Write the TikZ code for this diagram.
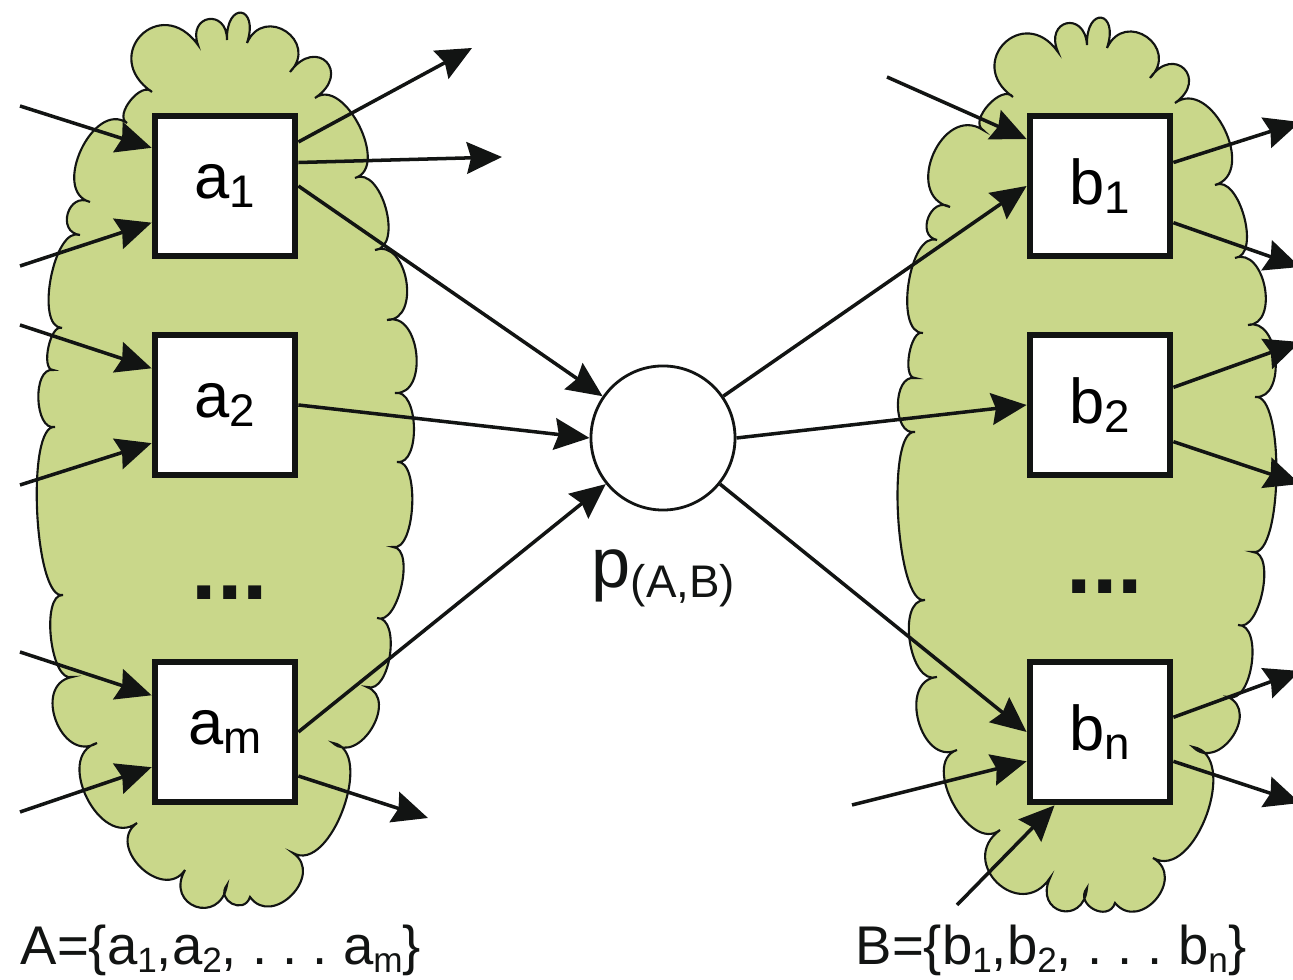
\documentclass[tikz,border=0pt]{standalone}
\usepackage{fontspec}
\setmainfont{Liberation Sans}
\usetikzlibrary{arrows.meta,calc}
\definecolor{Ink}{HTML}{121413}
\definecolor{Leaf}{HTML}{C9D78A}
\newcommand{\low}[2][13pt]{\raisebox{-0.13em}{\fontsize{#1}{#1}\selectfont #2}}

\begin{document}
\begin{tikzpicture}[x=0.01cm,y=-0.01cm,
      cloud/.style={draw=Ink,line width=0.6pt,fill=Leaf},
      elem/.style={draw=Ink,fill=white,line width=1.9pt,minimum size=1.40cm,
                   inner sep=0pt,font=\fontsize{18pt}{20pt}\selectfont},
      hub/.style={circle,draw=Ink,fill=white,line width=0.8pt,
                  minimum size=1.44cm},
      link/.style={-{Stealth[length=10pt,width=9pt,inset=1.2pt]},Ink,
                   line width=1pt},
      gap/.style={font=\fontsize{26pt}{26pt}\selectfont\bfseries,text=Ink,
                  inner sep=0pt,anchor=base},
      setlabel/.style={font=\fontsize{15.5pt}{18pt}\selectfont,text=Ink,
                       inner sep=0pt,anchor=base west}]
    \useasboundingbox (0,0) rectangle (1293,980);
    % the two clouds
    \draw[cloud] (152,92)
      \foreach \x/\y/\s in {198/45/2.5, 227/40/2.8, 247/43/5, 290/72/2.1,
        315/98/3.2, 355/178/1.05, 375/250/1, 387/320/1.25, 395/393/1.2,
        397/462/0.9, 393/547/0.7, 377/618/0.8, 367/687/0.9, 333/743/1.35,
        293/853/0.95, 250/897/1.6, 227/885/1.9, 185/870/2.4, 137/823/1.5,
        97/743/1.3, 72/677/1.5, 63/595/0.7, 55/427/0.45, 53/370/0.95,
        62/328/0.75, 80/235/0.75, 90/202/1.8, 127/123/1.2, 152/92/1}
      { to[bend left=100,looseness=\s] (\x,\y) } -- cycle;
    \draw[cloud] (1013,97)
      \foreach \x/\y/\s in {1058/52/2.4, 1087/45/3, 1107/48/5,
        1150/78/2.1, 1175/103/3, 1215/185/1.25, 1235/258/0.9, 1248/325/1.2,
        1255/397/1.15, 1253/552/0.5, 1238/625/0.8, 1228/697/0.9,
        1193/747/1.5, 1153/858/1.05, 1115/903/1.7, 1087/888/1.7,
        1050/878/2.6, 1000/830/2, 957/750/1.1, 937/677/1.35, 925/600/0.95,
        915/432/0.45, 915/378/1.1, 923/333/0.75, 937/240/0.8, 950/207/1.6,
        983/130/1.5, 1013/97/1}
      { to[bend left=100,looseness=\s] (\x,\y) } -- cycle;
    % elements and the relation
    \node[elem] (a1) at (225,186) {a\low{1}};
    \node[elem] (a2) at (225,405) {a\low{2}};
    \node[elem] (am) at (225,732) {a\low{m}};
    \node[elem] (b1) at (1100,186) {b\low{1}};
    \node[elem] (b2) at (1100,405) {b\low{2}};
    \node[elem] (bn) at (1100,732) {b\low{n}};
    \node[hub] (p) at (663,438) {};
    \node[gap] (adots) at (230,600) {...};
    \node[gap] (bdots) at (1105,594) {...};
    \node[font=\fontsize{20pt}{22pt}\selectfont,text=Ink,inner sep=0pt,
          anchor=base west] (plab) at (591,588) {p\low[13pt]{(A,B)}};
    \node[setlabel] (aset) at (20,965)
      {A=\{a\low[10pt]{1},a\low[10pt]{2}, .\ .\ .\ a\low[10pt]{m}\}};
    \node[setlabel] (bset) at (855,965)
      {B=\{b\low[10pt]{1},b\low[10pt]{2}, .\ .\ .\ b\low[10pt]{n}\}};
    % free ends
    \coordinate (a1in1) at (20,106);  \coordinate (a1in2) at (20,266);
    \coordinate (a2in1) at (20,325);  \coordinate (a2in2) at (20,485);
    \coordinate (amin1) at (20,652);  \coordinate (amin2) at (20,812);
    \coordinate (a1out1) at (472,48); \coordinate (a1out2) at (502,157);
    \coordinate (amout) at (428,818);
    \coordinate (b1in) at (887,77);
    \coordinate (bnin1) at (852,805); \coordinate (bnin2) at (957,905);
    \coordinate (b1out1) at (1300,122); \coordinate (b1out2) at (1300,267);
    \coordinate (b2out1) at (1300,342); \coordinate (b2out2) at (1300,484);
    \coordinate (bnout1) at (1300,671); \coordinate (bnout2) at (1300,803);
    % left side
    \draw[link] (a1in1) -- ($(a1.north west)!0.24!(a1.south west)$);
    \draw[link] (a1in2) -- ($(a1.north west)!0.75!(a1.south west)$);
    \draw[link] (a2in1) -- ($(a2.north west)!0.25!(a2.south west)$);
    \draw[link] (a2in2) -- ($(a2.north west)!0.76!(a2.south west)$);
    \draw[link] (amin1) -- ($(am.north west)!0.25!(am.south west)$);
    \draw[link] (amin2) -- ($(am.north west)!0.74!(am.south west)$);
    \draw[link] ($(a1.north east)!0.2!(a1.south east)$) -- (a1out1);
    \draw[link] ($(a1.north east)!0.34!(a1.south east)$) -- (a1out2);
    \draw[link] ($(am.north east)!0.8!(am.south east)$) -- (amout);
    \draw[link] (a1.east) -- (p);
    \draw[link] (a2.east) -- (p.west);
    \draw[link] (am.east) -- (p);
    % right side
    \draw[link] (p) -- (b1.west);
    \draw[link] (p.east) -- (b2.west);
    \draw[link] (p) -- (bn.west);
    \draw[link] (b1in) -- ($(b1.north west)!0.18!(b1.south west)$);
    \draw[link] (bnin1) -- ($(bn.north west)!0.7!(bn.south west)$);
    \draw[link] (bnin2) -- ($(bn.south west)!0.19!(bn.south east)$);
    \draw[link] ($(b1.north east)!0.34!(b1.south east)$) -- (b1out1);
    \draw[link] ($(b1.north east)!0.75!(b1.south east)$) -- (b1out2);
    \draw[link] ($(b2.north east)!0.38!(b2.south east)$) -- (b2out1);
    \draw[link] ($(b2.north east)!0.75!(b2.south east)$) -- (b2out2);
    \draw[link] ($(bn.north east)!0.4!(bn.south east)$) -- (bnout1);
    \draw[link] ($(bn.north east)!0.7!(bn.south east)$) -- (bnout2);
  \end{tikzpicture}
\end{document}
